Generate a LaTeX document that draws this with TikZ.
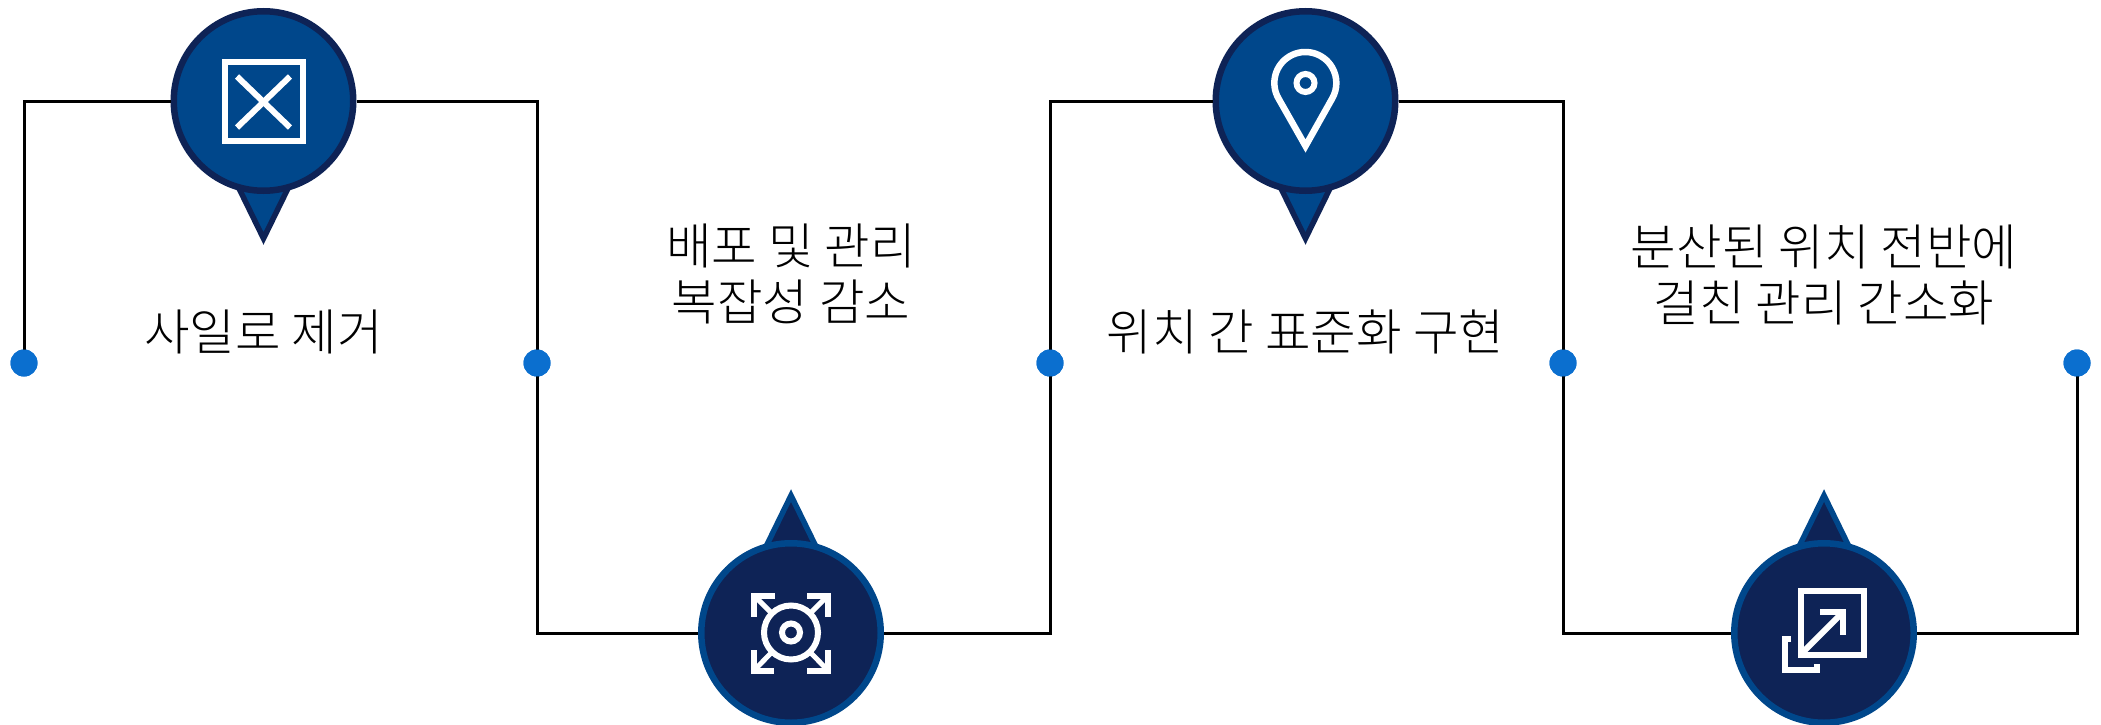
\documentclass[tikz,border=0pt]{standalone}
\usepackage{fontspec}
\newfontfamily\kofont[UprightFont=* Light]{Noto Sans CJK KR}
\usetikzlibrary{positioning}
\definecolor{pinblue}{HTML}{00478B}
\definecolor{pinnavy}{HTML}{0E2356}
\definecolor{dotblue}{HTML}{0B6FCF}
\tikzset{
  toppin/.style={circle,draw=pinnavy,fill=pinblue,line width=6.5pt,minimum size=179.5pt,inner sep=0pt},
  botpin/.style={circle,draw=pinblue,fill=pinnavy,line width=6.5pt,minimum size=179.5pt,inner sep=0pt},
  toptip/.style={draw=pinnavy,fill=pinblue,line width=5.5pt,miter limit=10},
  bottip/.style={draw=pinblue,fill=pinnavy,line width=5.5pt,miter limit=10},
  dotnode/.style={circle,fill=dotblue,minimum size=27pt,inner sep=0pt},
  wire/.style={draw=black,line width=3pt},
  icon/.style={draw=white,line width=6pt},
  label/.style={font=\kofont\fontsize{49.5}{56}\selectfont,align=center,text=black,inner sep=0pt}
}
\begin{document}
\begin{tikzpicture}[x=1pt,y=-1pt]
  \useasboundingbox (0,0) rectangle (2101,725);

  \node[dotnode] (dota) at (24,363) {};
  \node[dotnode] (dotb) at (537,363) {};
  \node[dotnode] (dotc) at (1050,363) {};
  \node[dotnode] (dotd) at (1563,363) {};
  \node[dotnode] (dote) at (2077,363) {};

  \draw[toptip] (230,170) -- (263.5,238.5) -- (297,170) -- cycle; % pointers
  \draw[bottip] (757.5,564) -- (791,495.5) -- (824.5,564) -- cycle;
  \draw[toptip] (1272,170) -- (1305.5,238.5) -- (1339,170) -- cycle;
  \draw[bottip] (1790.5,564) -- (1824,495.5) -- (1857.5,564) -- cycle;

  \node[toppin] (silo) at (263.5,101) {};
  \node[botpin] (deploy) at (791,633) {};
  \node[toppin] (place) at (1305.5,101) {};
  \node[botpin] (spread) at (1824,633) {};

  \draw[wire] (dota.center) |- (silo);
  \draw[wire] (silo) -| (dotb.center);
  \draw[wire] (dotb.center) |- (deploy);
  \draw[wire] (deploy) -| (dotc.center);
  \draw[wire] (dotc.center) |- (place);
  \draw[wire] (place) -| (dotd.center);
  \draw[wire] (dotd.center) |- (spread);
  \draw[wire] (spread) -| (dote.center);
  \node[dotnode] (dotatop) at (dota) {}; % dots again, over the wires
  \node[dotnode] (dotbtop) at (dotb) {};
  \node[dotnode] (dotctop) at (dotc) {};
  \node[dotnode] (dotdtop) at (dotd) {};
  \node[dotnode] (dotetop) at (dote) {};

  \draw[icon] (225,62) rectangle (302.5,140.5); % crossed box
  \draw[icon] (237,76.5) -- (290,127.5);
  \draw[icon] (290,76.5) -- (237,127.5);

  \draw[icon] (791,632.5) circle (9pt); % target with arrows
  \draw[icon] (791,632.5) circle (27pt);
  \draw[icon] (754,616.5) -- (754,595.5) -- (775,595.5);
  \draw[icon,line width=5pt] (754,595.5) -- (772,613.5);
  \draw[icon] (807,595.5) -- (828,595.5) -- (828,616.5);
  \draw[icon,line width=5pt] (828,595.5) -- (810,613.5);
  \draw[icon] (754,650) -- (754,670.5) -- (773.5,670.5);
  \draw[icon,line width=5pt] (754,670.5) -- (772,652);
  \draw[icon] (807,670.5) -- (828,670.5) -- (828,650);
  \draw[icon,line width=5pt] (828,670.5) -- (810,652);

  \draw[icon,line width=6.5pt,miter limit=10] (1305.5,146) -- (1278.5,98.5) arc (150:390:31) -- cycle; % map marker
  \draw[icon] (1305.5,83) circle (9pt);

  \draw[icon] (1800.5,591) rectangle (1864,655); % box with arrow
  \draw[icon] (1802,653) -- (1843,612);
  \draw[icon] (1820,612) -- (1843,612) -- (1843,635);
  \draw[icon] (1791,639) -- (1785,639) -- (1785,670) -- (1817,670) -- (1817,664);

  \node[label] (silotext) at (263.5,331.5) {사일로 제거};
  \node[label] (deploytext) at (791,273.5) {배포 및 관리\\복잡성 감소};
  \node[label] (placetext) at (1305.5,331.5) {위치 간 표준화 구현};
  \node[label] (spreadtext) at (1824,274.5) {분산된 위치 전반에\\걸친 관리 간소화};
\end{tikzpicture}
\end{document}
